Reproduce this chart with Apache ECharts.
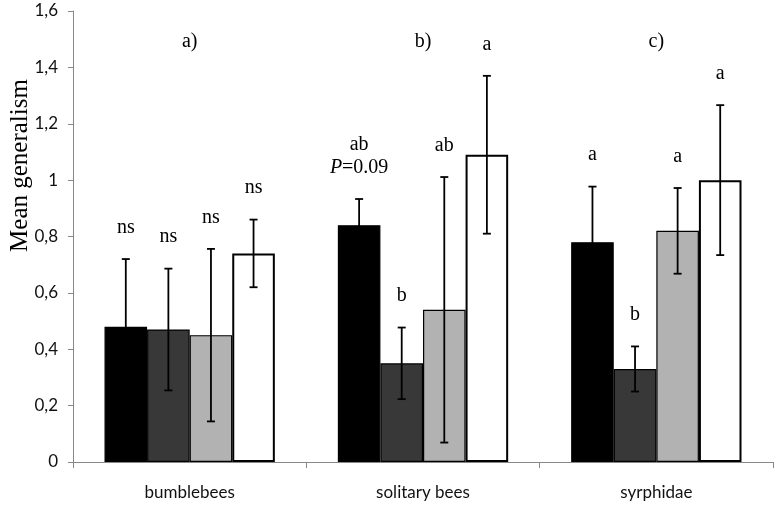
<!DOCTYPE html>
<html>
<head>
<meta charset="utf-8">
<script src="https://cdn.jsdelivr.net/npm/echarts@6/dist/echarts.min.js"></script>
<style>html,body{margin:0;padding:0;background:#fff;}#c{width:779px;height:507px;}</style>
</head>
<body>
<div id="c"></div>
<script>
// ---- data ----
var categories = ['bumblebees', 'solitary bees', 'syrphidae'];
var meanBlack = [0.48, 0.84, 0.78];
var meanDark  = [0.47, 0.35, 0.33];
var meanLight = [0.45, 0.54, 0.82];
var meanWhite = [0.74, 1.09, 1.00];
var errBlack = [0.24, 0.093, 0.197];
var errDark  = [0.216, 0.127, 0.08];
var errLight = [0.306, 0.471, 0.152];
var errWhite = [0.12, 0.28, 0.266];
var sigBlack = ['ns', 'ab\nP=0.09', 'a'];
var sigDark  = ['ns', 'b', 'b'];
var sigLight = ['ns', 'ab', 'a'];
var sigWhite = ['ns', 'a', 'a'];
var panelLabels = ['a)', 'b)', 'c)'];
var panelLevel = 1.49;
var yTicks = [0, 0.2, 0.4, 0.6, 0.8, 1, 1.2, 1.4, 1.6];

var means = [meanBlack, meanDark, meanLight, meanWhite];
var errs = [errBlack, errDark, errLight, errWhite];
var sigs = [sigBlack, sigDark, sigLight, sigWhite];
var colors = ['#000000', '#383838', '#b2b2b2', '#ffffff'];
var CAT_GAP = 0.27;
var SERIF = '"Liberation Serif", "Times New Roman", serif';
var SANS = 'Lato, "Open Sans", sans-serif';

function toRich(s) {
  return s.split('\n').map(function (line) {
    if (line.indexOf('P=') === 0) return '{i|P}{t|' + line.slice(1) + '}';
    return '{t|' + line + '}';
  }).join('\n');
}

var series = [];
for (var k = 0; k < 4; k++) {
  series.push({
    type: 'bar',
    data: means[k],
    barGap: '0%',
    barCategoryGap: (CAT_GAP * 100) + '%',
    itemStyle: { color: colors[k], borderColor: '#000', borderWidth: k === 3 ? 2 : 1.2 },
    emphasis: { disabled: true },
    z: 2
  });
}
for (var k2 = 0; k2 < 4; k2++) {
  (function (k) {
    series.push({
      type: 'custom',
      z: 5,
      silent: true,
      data: categories.map(function (c, i) { return [i, means[k][i], errs[k][i]]; }),
      encode: { x: 0, y: 1 },
      renderItem: function (params, api) {
        var ci = api.value(0), m = api.value(1), e = api.value(2);
        var band = api.size([1, 0])[0];
        var bw = band * (1 - CAT_GAP) / 4;
        var xc = api.coord([ci, m])[0] + (k - 1.5) * bw;
        var yT = api.coord([ci, m + e])[1];
        var yB = api.coord([ci, m - e])[1];
        var cap = 4;
        var st = { stroke: '#000', lineWidth: 1.8 };
        return {
          type: 'group',
          children: [
            { type: 'line', shape: { x1: xc, y1: yT, x2: xc, y2: yB }, style: st },
            { type: 'line', shape: { x1: xc - cap, y1: yT, x2: xc + cap, y2: yT }, style: st },
            { type: 'line', shape: { x1: xc - cap, y1: yB, x2: xc + cap, y2: yB }, style: st },
            { type: 'text', x: xc, y: yT - 20,
              style: {
                text: toRich(sigs[k][params.dataIndex]),
                align: 'center', verticalAlign: 'bottom',
                rich: {
                  t: { font: '20px ' + SERIF, fill: '#000', lineHeight: 23 },
                  i: { font: 'italic 20px ' + SERIF, fill: '#000', lineHeight: 23 }
                }
              } }
          ]
        };
      }
    });
  })(k2);
}
series.push({
  type: 'custom',
  z: 5,
  silent: true,
  data: categories.map(function (c, i) { return [i, panelLevel, panelLabels[i]]; }),
  encode: { x: 0, y: 1 },
  renderItem: function (params, api) {
    var p = api.coord([api.value(0), api.value(1)]);
    return { type: 'text', x: p[0], y: p[1],
      style: { text: panelLabels[params.dataIndex], font: '20px ' + SERIF, fill: '#000', align: 'center', verticalAlign: 'middle' } };
  }
});

var chart = echarts.init(document.getElementById('c'));
chart.setOption({
  animation: false,
  backgroundColor: '#fff',
  grid: { left: 73, right: 6, top: 11, bottom: 45, containLabel: false, outerBoundsMode: 'none' },
  xAxis: {
    type: 'category',
    data: categories,
    axisLine: { lineStyle: { color: '#888', width: 1 } },
    axisTick: { show: true, alignWithLabel: false, length: 6, lineStyle: { color: '#888' } },
    axisLabel: { color: '#111', fontFamily: SANS, fontSize: 17, margin: 22 },
    splitLine: { show: false }
  },
  yAxis: {
    type: 'value',
    min: yTicks[0], max: yTicks[yTicks.length - 1], interval: 0.2,
    name: 'Mean generalism',
    nameLocation: 'middle',
    nameGap: 40,
    nameMoveOverlap: false,
    nameRotate: 90,
    nameTextStyle: { fontFamily: SERIF, fontSize: 25, color: '#000', padding: [0, 0, 0, 142] },
    axisLine: { show: true, lineStyle: { color: '#888', width: 1 } },
    axisTick: { show: true, length: 5, lineStyle: { color: '#888' } },
    axisLabel: {
      color: '#111', fontFamily: SANS, fontSize: 17, margin: 15,
      formatter: function (v) { return String(Math.round(v * 10) / 10).replace('.', ','); }
    },
    splitLine: { show: false }
  },
  series: series
});
</script>
</body>
</html>
